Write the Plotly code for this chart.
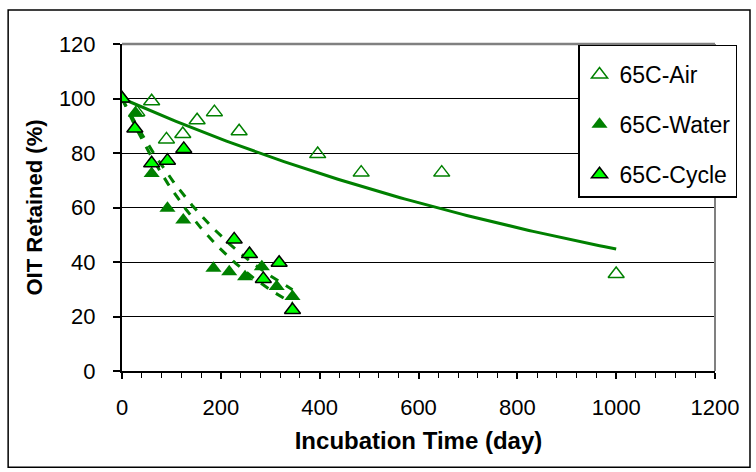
import numpy as np
import plotly.graph_objects as go

# OIT retained vs incubation time
air_days = [0, 30, 60, 90, 123, 152, 187, 237, 396, 484, 647, 1000]
air_oit = [100, 95, 99, 85, 87, 92, 95, 88, 79.6, 72.8, 72.8, 35.6]

water_days = [0, 28, 60, 92, 124, 185, 217, 249, 283, 313, 345]
water_oit = [100, 94.6, 72.5, 59.7, 55.4, 37.7, 36.4, 34.6, 38.3, 31, 27.3]

cycle_days = [0, 26, 60, 92, 125, 227, 258, 286, 318, 345]
cycle_oit = [100, 89, 76.2, 77.2, 81.5, 48.3, 42.9, 33.8, 39.7, 22.4]

x_ticks = [0, 200, 400, 600, 800, 1000, 1200]
y_ticks = [0, 20, 40, 60, 80, 100, 120]

GREEN = "#008000"
LIME = "#00FF00"
FONT = "Liberation Sans, Arial, sans-serif"


def exp_fit(x, y):
    # exponential trendline with the intercept fixed at the day-0 value
    x = np.asarray(x, float)
    y = np.asarray(y, float)
    y0 = y[0]
    b = np.sum(x * np.log(y / y0)) / np.sum(x * x)
    xs = np.linspace(x.min(), x.max(), 120)
    return xs, y0 * np.exp(b * xs)


fig = go.Figure()

for xs, ys, dash in [
    (*exp_fit(air_days, air_oit), "solid"),
    (*exp_fit(water_days, water_oit), "dash"),
    (*exp_fit(cycle_days, cycle_oit), "dash"),
]:
    fig.add_trace(
        go.Scatter(
            x=xs, y=ys, mode="lines", showlegend=False, hoverinfo="skip",
            line=dict(color=GREEN, width=3, dash=dash),
        )
    )

fig.add_trace(
    go.Scatter(
        x=air_days, y=air_oit, mode="markers", name="65C-Air", legendgroup="a",
        marker=dict(symbol="triangle-up-open", size=14, color=GREEN,
                    line=dict(color=GREEN, width=1.5)),
    )
)
fig.add_trace(
    go.Scatter(
        x=water_days, y=water_oit, mode="markers", name="65C-Water", legendgroup="b",
        marker=dict(symbol="triangle-up", size=14, color=GREEN, line=dict(width=0)),
    )
)
fig.add_trace(
    go.Scatter(
        x=cycle_days, y=cycle_oit, mode="markers", name="65C-Cycle", legendgroup="c",
        marker=dict(symbol="triangle-up", size=14, color=LIME,
                    line=dict(color="black", width=1.5)),
    )
)

fig.update_layout(
    width=756,
    height=472,
    margin=dict(l=122, r=41, t=44, b=101),
    paper_bgcolor="white",
    plot_bgcolor="white",
    font=dict(family=FONT, size=22, color="black"),
    legend=dict(
        x=0.769, y=0.997, xanchor="left", yanchor="top",
        bordercolor="black", borderwidth=1.5, bgcolor="white",
        font=dict(size=23), tracegroupgap=17, traceorder="grouped",
        itemsizing="trace",
        title=dict(text=" ", font=dict(size=5)),
    ),
    shapes=[
        # outer chart border
        dict(type="rect", xref="paper", yref="paper", x0=-0.192, x1=1.059,
             y0=-0.294, y1=1.104, line=dict(color="black", width=1.5), layer="below"),
        # plot area border (top and right)
        dict(type="line", xref="paper", yref="paper", x0=0, x1=1, y0=1, y1=1,
             line=dict(color="#808080", width=2.5), layer="above"),
        dict(type="line", xref="paper", yref="paper", x0=1, x1=1, y0=0, y1=1,
             line=dict(color="#808080", width=2), layer="above"),
    ],
)

fig.update_xaxes(
    range=[0, 1200], tickvals=x_ticks, showgrid=False, zeroline=False,
    showline=True, linecolor="black", linewidth=2, automargin=False,
    ticks="outside", ticklen=6, tickwidth=1.5, tickcolor="black",
    minor=dict(dtick=40, ticks="outside", ticklen=5, tickwidth=1, tickcolor="black"),
    ticklabelstandoff=10,
    title=dict(text="<b>Incubation Time (day)</b>", font=dict(size=24), standoff=13),
)
fig.update_yaxes(
    range=[0, 120], tickvals=y_ticks, showgrid=True, gridcolor="black", gridwidth=1.2,
    zeroline=False, showline=True, linecolor="black", linewidth=2, automargin=False,
    ticks="outside", ticklen=7, tickwidth=1.5, tickcolor="black",
    ticklabelstandoff=13,
    title=dict(text="<b>OIT Retained (%)</b>", font=dict(size=22), standoff=10),
)

# drop the browser's default body margin so the chart sits at the page origin
fig.write_html(
    "out.html",
    config={"displayModeBar": False},
    post_script="document.body.style.margin='0';",
)
